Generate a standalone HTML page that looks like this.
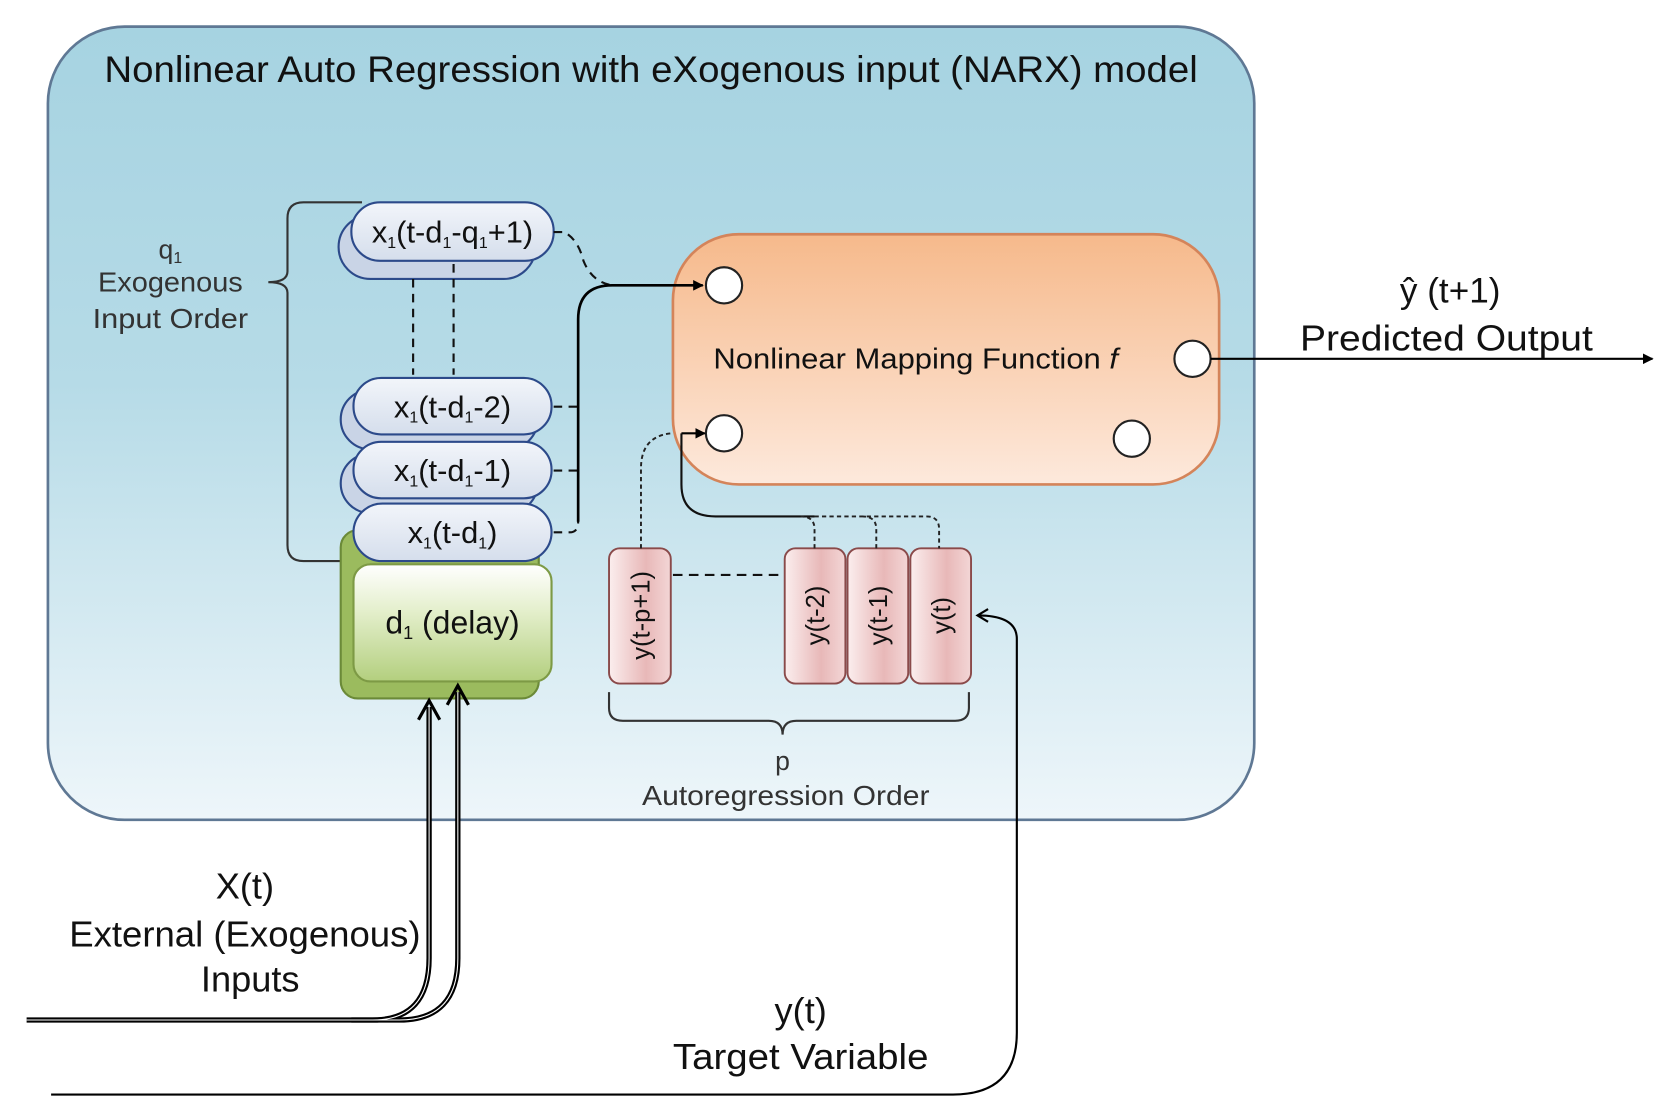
<!DOCTYPE html>
<html><head><meta charset="utf-8"><style>
html,body{margin:0;padding:0;background:#fff;overflow:hidden}
svg{display:block}
text{font-family:"Liberation Sans",sans-serif;fill:#111}
</style></head><body>
<svg width="1661" height="1102" viewBox="0 0 1560 1035" preserveAspectRatio="none" xmlns="http://www.w3.org/2000/svg">
<defs>
<linearGradient id="bg" x1="0" y1="0" x2="0" y2="1"><stop offset="0" stop-color="#a6d3e1"/><stop offset="0.45" stop-color="#b6dbe7"/><stop offset="1" stop-color="#eef6fa"/></linearGradient>
<linearGradient id="or" x1="0" y1="0" x2="0" y2="1"><stop offset="0" stop-color="#f6b98b"/><stop offset="1" stop-color="#fde9dc"/></linearGradient>
<linearGradient id="pl" x1="0" y1="0" x2="0" y2="1"><stop offset="0" stop-color="#f2f5fa"/><stop offset="1" stop-color="#d5deec"/></linearGradient>
<linearGradient id="gr" x1="0" y1="0" x2="0" y2="1"><stop offset="0" stop-color="#ffffff"/><stop offset="0.4" stop-color="#e4efcc"/><stop offset="1" stop-color="#b3cf7e"/></linearGradient>
<linearGradient id="pk" x1="0" y1="0" x2="1" y2="0"><stop offset="0" stop-color="#fbeeee"/><stop offset="0.6" stop-color="#e8b8b8"/><stop offset="1" stop-color="#f3d6d6"/></linearGradient>
<marker id="ah" markerWidth="10" markerHeight="10" refX="9" refY="5" orient="auto" markerUnits="userSpaceOnUse"><path d="M0,0 L10,5 L0,10 z" fill="#000"/></marker>
<marker id="oa" markerWidth="14" markerHeight="14" refX="12" refY="7" orient="auto" markerUnits="userSpaceOnUse"><path d="M2,1 L12,7 L2,13" fill="none" stroke="#000" stroke-width="2"/></marker>
</defs>
<rect x="45" y="25" width="1133" height="745" rx="72" fill="url(#bg)" stroke="#5f7894" stroke-width="2.5"/>
<text x="98" y="77" font-size="35" textLength="1027" lengthAdjust="spacingAndGlyphs">Nonlinear Auto Regression with eXogenous input (NARX) model</text>

<!-- orange -->
<rect x="632" y="220" width="513" height="235" rx="62" fill="url(#or)" stroke="#d4845a" stroke-width="2.5"/>
<text x="670" y="346" font-size="27" textLength="380" lengthAdjust="spacingAndGlyphs">Nonlinear Mapping Function <tspan font-style="italic">f</tspan></text>
<g fill="#fff" stroke="#222" stroke-width="2">
<circle cx="680" cy="268" r="17"/><circle cx="680" cy="407" r="17"/><circle cx="1120" cy="337" r="17"/><circle cx="1063" cy="412" r="17"/></g>
<line x1="1137" y1="337" x2="1552" y2="337" stroke="#000" stroke-width="2" marker-end="url(#ah)"/>
<text x="1362" y="284" font-size="33" text-anchor="middle">ŷ (t+1)</text>
<text x="1221" y="329" font-size="34" textLength="275" lengthAdjust="spacingAndGlyphs">Predicted Output</text>

<!-- left bracket -->
<path d="M340,190 L285,190 Q270,190 270,205 L270,255 Q270,265 252,265 Q270,265 270,275 L270,512 Q270,527 285,527 L345,527" fill="none" stroke="#333" stroke-width="2"/>
<text x="160" y="243" font-size="25" text-anchor="middle" style="fill:#333">q<tspan font-size="15" dy="4">1</tspan></text>
<text x="160" y="274" font-size="26" text-anchor="middle" style="fill:#333" textLength="136" lengthAdjust="spacingAndGlyphs">Exogenous</text>
<text x="160" y="308" font-size="26" text-anchor="middle" style="fill:#333" textLength="146" lengthAdjust="spacingAndGlyphs">Input Order</text>

<!-- green delay -->
<rect x="320" y="498" width="186" height="158" rx="16" fill="#9bbb5e" stroke="#6b8a38" stroke-width="2"/>
<rect x="332" y="530" width="186" height="110" rx="16" fill="url(#gr)" stroke="#7d9a45" stroke-width="2"/>
<text x="425" y="595" font-size="30" text-anchor="middle">d<tspan font-size="17" dy="5">1</tspan><tspan dy="-5"> (delay)</tspan></text>

<!-- pills -->
<g stroke="#2c4a8a" stroke-width="2">
<rect x="318" y="202" width="185" height="60" rx="30" fill="#c9d4e6"/>
<rect x="330" y="190" width="190" height="55" rx="27" fill="url(#pl)"/>
<rect x="320" y="366" width="185" height="56" rx="28" fill="#c9d4e6"/>
<rect x="320" y="426" width="185" height="56" rx="28" fill="#c9d4e6"/>
<rect x="332" y="355" width="186" height="53" rx="26" fill="url(#pl)"/>
<rect x="332" y="415" width="186" height="53" rx="26" fill="url(#pl)"/>
<rect x="332" y="473" width="186" height="54" rx="27" fill="url(#pl)"/>
</g>
<g font-size="29" text-anchor="middle">
<text x="425" y="228">x<tspan font-size="15" dy="5">1</tspan><tspan dy="-5">(t-d</tspan><tspan font-size="15" dy="5">1</tspan><tspan dy="-5">-q</tspan><tspan font-size="15" dy="5">1</tspan><tspan dy="-5">+1)</tspan></text>
<text x="425" y="392">x<tspan font-size="15" dy="5">1</tspan><tspan dy="-5">(t-d</tspan><tspan font-size="15" dy="5">1</tspan><tspan dy="-5">-2)</tspan></text>
<text x="425" y="452">x<tspan font-size="15" dy="5">1</tspan><tspan dy="-5">(t-d</tspan><tspan font-size="15" dy="5">1</tspan><tspan dy="-5">-1)</tspan></text>
<text x="425" y="510">x<tspan font-size="15" dy="5">1</tspan><tspan dy="-5">(t-d</tspan><tspan font-size="15" dy="5">1</tspan><tspan dy="-5">)</tspan></text>
</g>
<g stroke="#111" stroke-width="2" stroke-dasharray="8,6" fill="none">
<line x1="388" y1="262" x2="388" y2="352"/><line x1="426" y1="248" x2="426" y2="352"/>
<path d="M520,218 L530,218 Q543,225 548,245 Q556,265 575,268"/>
<path d="M520,382 L543,382 M520,442 L543,442 M520,500 L535,500 Q543,500 543,490 L543,380"/>
</g>
<path d="M543,490 L543,300 Q543,268 575,268 L660,268" fill="none" stroke="#000" stroke-width="2.5" marker-end="url(#ah)"/>

<!-- y pills -->
<g stroke="#8a4a4a" stroke-width="1.8" fill="url(#pk)">
<rect x="572" y="515" width="58" height="127" rx="10"/>
<rect x="737" y="515" width="57" height="127" rx="10"/>
<rect x="796" y="515" width="57" height="127" rx="10"/>
<rect x="855" y="515" width="57" height="127" rx="10"/>
</g>
<g font-size="24" text-anchor="middle">
<text transform="translate(610,578) rotate(-90)">y(t-p+1)</text>
<text transform="translate(774,578) rotate(-90)">y(t-2)</text>
<text transform="translate(833,578) rotate(-90)">y(t-1)</text>
<text transform="translate(892,578) rotate(-90)">y(t)</text>
</g>
<line x1="632" y1="540" x2="737" y2="540" stroke="#111" stroke-width="2" stroke-dasharray="9,6"/>
<path d="M640,407 L640,455 Q640,485 672,485 L765,485" fill="none" stroke="#111" stroke-width="2"/>
<g stroke="#222" stroke-width="1.8" stroke-dasharray="4,3" fill="none">
<path d="M765,515 L765,497 Q765,485 752,485"/>
<path d="M823,515 L823,497 Q823,485 810,485 M765,485 L870,485 Q882,485 882,497 L882,515"/>
<path d="M602,515 L602,440 Q602,410 630,407"/>
</g>
<line x1="640" y1="407" x2="662" y2="407" stroke="#000" stroke-width="2" marker-end="url(#ah)"/>
<!-- bottom brace -->
<path d="M572,650 L572,665 Q572,677 585,677 L722,677 Q735,677 735,690 Q735,677 748,677 L897,677 Q910,677 910,665 L910,650" fill="none" stroke="#333" stroke-width="2"/>
<text x="735" y="723" font-size="25" text-anchor="middle" style="fill:#333">p</text>
<text x="738" y="756" font-size="26" text-anchor="middle" style="fill:#333" textLength="270" lengthAdjust="spacingAndGlyphs">Autoregression Order</text>

<!-- input arrows -->
<g fill="none" stroke="#000" stroke-width="5">
<path d="M25,958 L350,958 Q403,958 403,900 L403,664"/>
<path d="M330,958 L375,958 Q430,958 430,900 L430,650"/>
</g>
<g fill="none" stroke="#fff" stroke-width="1">
<path d="M25,958 L350,958 Q403,958 403,900 L403,664"/>
<path d="M330,958 L375,958 Q430,958 430,900 L430,650"/>
</g>
<path d="M393,676 L403,658 L413,676 M420,662 L430,644 L440,662" fill="none" stroke="#000" stroke-width="3"/>
<g font-size="34" text-anchor="middle" stroke="#fff" stroke-width="5" paint-order="stroke">
<text x="230" y="844">X(t)</text>
<text x="230" y="889" textLength="330" lengthAdjust="spacingAndGlyphs">External (Exogenous)</text>
<text x="235" y="931">Inputs</text>
<text x="752" y="961">y(t)</text>
<text x="752" y="1004" textLength="240" lengthAdjust="spacingAndGlyphs">Target Variable</text>
</g>
<path d="M48,1028 L895,1028 Q955,1028 955,970 L955,600 Q955,578 918,578" fill="none" stroke="#000" stroke-width="2" marker-end="url(#oa)"/>
</svg>
</body></html>
